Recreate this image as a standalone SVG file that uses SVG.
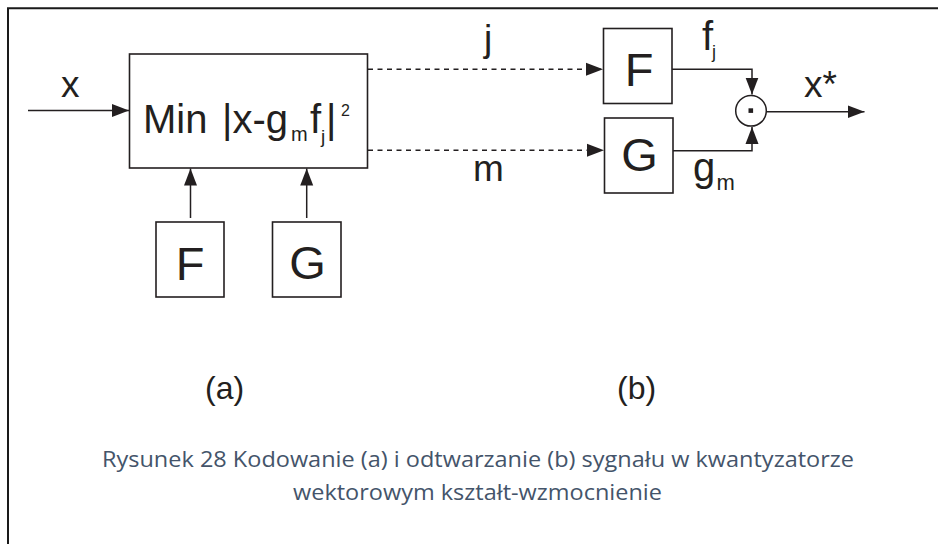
<svg xmlns="http://www.w3.org/2000/svg" width="938" height="544" viewBox="0 0 938 544">
<style>
.box{fill:#fff;stroke:#231f20;stroke-width:1.6}
.ln{fill:none;stroke:#231f20;stroke-width:1.5}
.dot{fill:none;stroke:#231f20;stroke-width:1.5;stroke-dasharray:5 4.5}
.t{font-family:"Liberation Sans",Arial,Helvetica,sans-serif;fill:#231f20}
.cap{font-family:"Open Sans","Noto Sans",sans-serif;fill:#44546a;font-size:21px}
</style>
<defs>
<marker id="ah" markerUnits="userSpaceOnUse" markerWidth="18" markerHeight="14" refX="17" refY="7" orient="auto">
<path d="M0,0.5 L17,7 L0,13.5 z" fill="#231f20"/>
</marker>
</defs>
<rect x="0" y="0" width="938" height="544" fill="#fff"/>
<path d="M8,560 L8,8.3 L960,8.3" fill="none" stroke="#1a1a1a" stroke-width="2"/>

<g id="main">
<rect class="box" x="129.5" y="54" width="238" height="114"/>
<text class="t" y="133" font-size="40"><tspan x="143">Min</tspan><tspan x="222">|x-g</tspan><tspan x="291" y="141" font-size="20">m</tspan><tspan x="310" y="133" font-size="40">f</tspan><tspan x="321" y="143" font-size="19">j</tspan><tspan x="326" y="133" font-size="40">|</tspan><tspan x="341" y="115.5" font-size="16">2</tspan></text>
</g>
<g id="encF">
<rect class="box" x="156" y="222" width="68" height="75"/>
<text class="t" x="190" y="280" font-size="47" text-anchor="middle">F</text>
</g>
<g id="encG">
<rect class="box" x="272.5" y="222" width="68.5" height="75"/>
<text class="t" x="307.5" y="279" font-size="47" text-anchor="middle">G</text>
</g>
<g id="decF">
<rect class="box" x="603.5" y="28.5" width="68.5" height="75"/>
<text class="t" x="639" y="86" font-size="47" text-anchor="middle">F</text>
</g>
<g id="decG">
<rect class="box" x="604.5" y="118" width="68.5" height="75"/>
<text class="t" x="639.5" y="171" font-size="47" text-anchor="middle">G</text>
</g>
<g id="mult">
<circle cx="751" cy="110.8" r="15.3" fill="#fff" stroke="#231f20" stroke-width="1.5"/>
<rect x="748.5" y="108.3" width="4.6" height="4.6" fill="#231f20"/>
</g>

<g id="connectors">
<line class="ln" x1="28" y1="110.5" x2="129" y2="110.5" marker-end="url(#ah)"/>
<line class="ln" x1="190.5" y1="218" x2="190.5" y2="168.5" marker-end="url(#ah)"/>
<line class="ln" x1="306.7" y1="218" x2="306.7" y2="168.5" marker-end="url(#ah)"/>
<line class="dot" x1="368" y1="69.3" x2="603" y2="69.3" marker-end="url(#ah)"/>
<line class="dot" x1="368" y1="150.3" x2="604" y2="150.3" marker-end="url(#ah)"/>
<polyline class="ln" points="672,69.3 752,69.3 752,94.5" marker-end="url(#ah)"/>
<polyline class="ln" points="673,150.7 752,150.7 752,127" marker-end="url(#ah)"/>
<line class="ln" x1="766.3" y1="111.7" x2="864.5" y2="111.7" marker-end="url(#ah)"/>
</g>

<g id="labels">
<text class="t" x="61" y="97" font-size="37">x</text>
<text class="t" x="484" y="50.5" font-size="37">j</text>
<text class="t" x="473" y="181" font-size="37">m</text>
<text class="t" x="702" y="50" font-size="40">f</text>
<text class="t" x="712" y="58" font-size="18">j</text>
<text class="t" x="804" y="97" font-size="37">x*</text>
<text class="t" x="693" y="181" font-size="40">g</text>
<text class="t" x="716.5" y="189.5" font-size="22">m</text>
<text class="t" x="205" y="398.5" font-size="32">(a)</text>
<text class="t" x="617" y="398.5" font-size="32">(b)</text>
</g>

<g id="caption">
<text class="cap" x="478" y="467" text-anchor="middle" textLength="752" lengthAdjust="spacingAndGlyphs">Rysunek 28 Kodowanie (a) i odtwarzanie (b) sygnału w kwantyzatorze</text>
<text class="cap" x="477.5" y="500" text-anchor="middle" textLength="369" lengthAdjust="spacingAndGlyphs">wektorowym kształt-wzmocnienie</text>
</g>
</svg>
